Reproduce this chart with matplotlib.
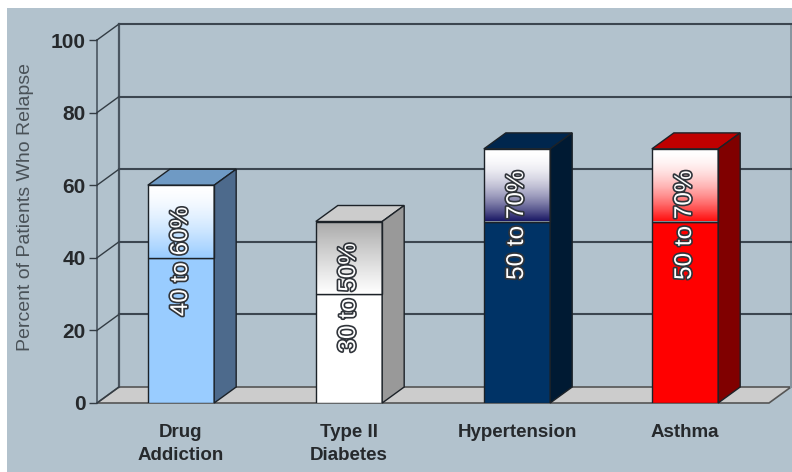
#Import libraries
import numpy as np
import matplotlib
matplotlib.use("Agg")
import matplotlib.pyplot as plt
import matplotlib.patheffects as pe
from matplotlib.colors import LinearSegmentedColormap
from matplotlib.patches import Polygon, Rectangle

plt.rcParams['font.family'] = ['Liberation Sans', 'DejaVu Sans']

#Data
categories = ["Drug\nAddiction", "Type II\nDiabetes", "Hypertension", "Asthma"]
low_values = [40, 30, 50, 50]
high_values = [60, 50, 70, 70]
range_labels = ["40 to 60%", "30 to 50%", "50 to 70%", "50 to 70%"]
y_ticks = [0, 20, 40, 60, 80, 100]
y_title = "Percent of Patients Who Relapse"

#Colours per bar: front, top face, side face, gradient top, gradient bottom
front_colors = ["#99ccff", "#ffffff", "#003366", "#ff0000"]
top_colors = ["#6f9ac4", "#cccccc", "#00264d", "#bf0000"]
side_colors = ["#4d6a8c", "#999999", "#001a33", "#800000"]
grad_top = ["#ffffff", "#a8a8a8", "#ffffff", "#ffffff"]
grad_bottom = ["#99ccff", "#ffffff", "#1c1a66", "#ff1010"]
grad_power = [1.5, 0.9, 2.0, 1.8]
panel_color = "#b2c2cd"
line_color = "#3c4650"

fig = plt.figure(figsize=(7.92, 4.72), dpi=100, facecolor="white")
W, H = 792.0, 472.0

#Background panel, leaves a thin white margin top and left
fig.patches.append(Rectangle((7 / W, 0), 1 - 7 / W, 1 - 8 / H, transform=fig.transFigure,
                             facecolor=panel_color, edgecolor="none", zorder=-5))

#Axes is the front plane of the 3D box
ax = fig.add_axes([97 / W, (H - 403) / H, 672 / W, 363 / H])
ax.patch.set_alpha(0)
ax.set_xlim(-0.5, 3.5)
ax.set_ylim(0, 100)
for s in ax.spines.values():
    s.set_visible(False)

#Depth of the box in data units
dx = 22 / 168.0
dy = 16 / 3.63
bar_w = 0.395
x_left, x_right = ax.get_xlim()

#Floor
ax.add_patch(Polygon([(x_left, 0), (x_right, 0), (x_right + dx, dy), (x_left + dx, dy)],
                     facecolor="#cccccc", edgecolor="#555555", lw=1.2, clip_on=False, zorder=1))

#Walls and gridlines
ax.plot([x_left, x_left], [0, 100], color="#4a5560", lw=1.2, clip_on=False, zorder=1)
ax.plot([x_left + dx, x_left + dx], [dy, 100 + dy], color="#4a5560", lw=1.6, clip_on=False, zorder=1)
ax.plot([x_right + dx, x_right + dx], [dy, 100 + dy], color="#87959f", lw=1.4, clip_on=False, zorder=1)
for t in y_ticks:
    ax.plot([x_left, x_left + dx], [t, t + dy], color="#333c44", lw=1.0, clip_on=False, zorder=1)
    if t > 0:
        ax.plot([x_left + dx, x_right + dx], [t + dy, t + dy], color=line_color, lw=1.5,
                clip_on=False, zorder=1)

#Y axis ticks and labels
ax.set_xticks([])
ax.set_yticks(y_ticks)
ax.tick_params(axis='y', length=6, width=1.0, color="#333c44", pad=2)
for lab in ax.get_yticklabels():
    lab.set_fontsize(15)
    lab.set_fontweight("bold")
    lab.set_color("#26292c")

fig.text(26 / W, 1 - 207 / H, y_title, rotation=90, ha="center", va="center",
         fontsize=14, color="#4a5258")

#Bars
edge = "#1c2228"
for i in range(len(categories)):
    x0 = i - bar_w / 2
    x1 = i + bar_w / 2
    lo = low_values[i]
    hi = high_values[i]
    #solid lower part
    ax.bar(i, lo, width=bar_w, color=front_colors[i], edgecolor=edge, linewidth=1.0, zorder=3)
    #gradient upper part
    cmap = LinearSegmentedColormap.from_list("g", [grad_top[i], grad_bottom[i]])
    grad = (np.linspace(0, 1, 64) ** grad_power[i]).reshape(-1, 1)
    ax.imshow(grad, extent=(x0, x1, lo, hi), origin="upper", cmap=cmap, vmin=0, vmax=1,
              aspect="auto", zorder=3)
    ax.bar(i, hi - lo, bottom=lo, width=bar_w, facecolor="none", edgecolor=edge, linewidth=1.0, zorder=4)
    #top and side faces
    ax.add_patch(Polygon([(x0, hi), (x1, hi), (x1 + dx, hi + dy), (x0 + dx, hi + dy)],
                         facecolor=top_colors[i], edgecolor=edge, lw=1.0, zorder=3, clip_on=False))
    ax.add_patch(Polygon([(x1, 0), (x1 + dx, dy), (x1 + dx, hi + dy), (x1, hi)],
                         facecolor=side_colors[i], edgecolor=edge, lw=1.0, zorder=3, clip_on=False))
    #range label sits around the lower value
    ax.text(i, lo - 1, range_labels[i], rotation=90, ha="center", va="center", fontsize=17.5,
            color="white", zorder=5,
            path_effects=[pe.withStroke(linewidth=2.4, foreground="#30343a")])
    #category label
    ax.annotate(categories[i], xy=(i, 0), xycoords="data", xytext=(0, -15), textcoords="offset points",
                ha="center", va="top", fontsize=13.5, fontweight="bold", color="#26292c",
                linespacing=1.5, annotation_clip=False)

ax.set_xlim(x_left, x_right)
ax.set_ylim(0, 100)
fig.savefig("out.png", dpi=100)
